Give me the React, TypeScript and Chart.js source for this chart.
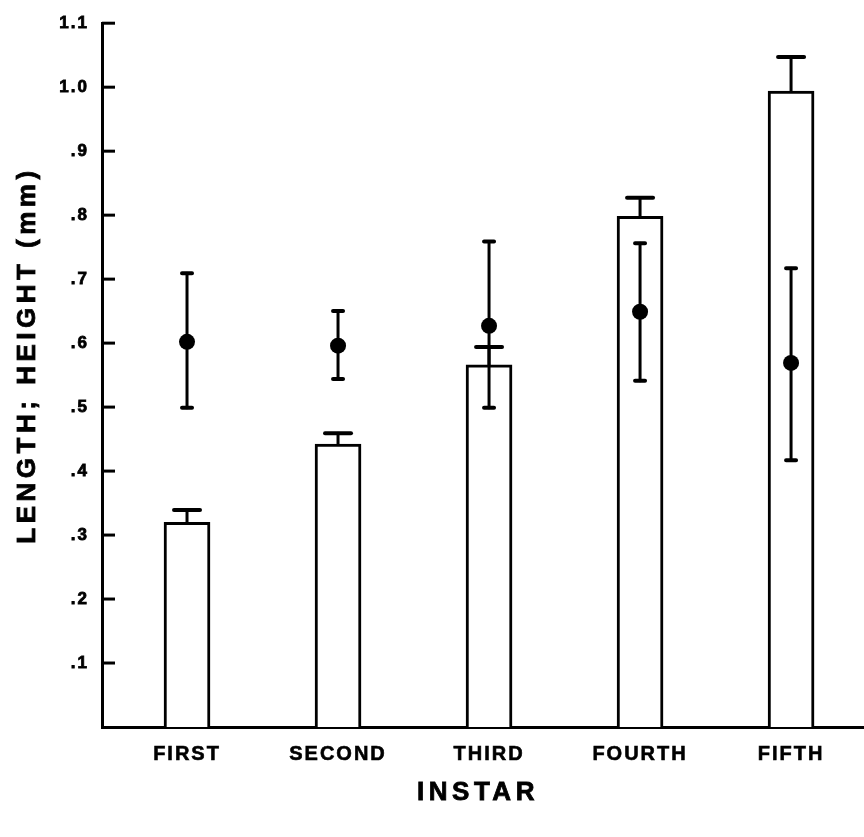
import React, { useEffect, useRef } from 'react';
import { Chart, registerables } from 'chart.js';

Chart.register(...registerables);

const CATEGORIES = ['FIRST', 'SECOND', 'THIRD', 'FOURTH', 'FIFTH'];
const BAR_MEANS = [0.32, 0.442, 0.566, 0.798, 0.994];
const BAR_ERRORS = [0.019, 0.017, 0.028, 0.029, 0.053];
const POINT_MEANS = [0.602, 0.596, 0.627, 0.649, 0.569];
const POINT_UPPER = [0.709, 0.65, 0.759, 0.756, 0.717];
const POINT_LOWER = [0.499, 0.544, 0.499, 0.541, 0.417];
const Y_TICK_LABELS: Record<string, string> = {
  '0.1': '.1', '0.2': '.2', '0.3': '.3', '0.4': '.4', '0.5': '.5',
  '0.6': '.6', '0.7': '.7', '0.8': '.8', '0.9': '.9', '1.0': '1.0', '1.1': '1.1',
};
const Y_TITLE = 'LENGTH; HEIGHT (mm)';
const X_TITLE = 'INSTAR';

const FONT = '"Liberation Sans", Arial, Helvetica, sans-serif';

export default function App() {
  const ref = useRef<HTMLCanvasElement | null>(null);

  useEffect(() => {
    document.body.style.margin = '0';
    const canvas = ref.current!;
    const errorBars = {
      id: 'errorBars',
      afterDatasetsDraw(chart: any) {
        const ctx = chart.ctx;
        const y = chart.scales.y;
        ctx.save();
        ctx.strokeStyle = '#000';
        ctx.lineCap = 'round';
        const barMeta = chart.getDatasetMeta(0);
        barMeta.data.forEach((el: any, i: number) => {
          const x = el.x;
          const top = y.getPixelForValue(BAR_MEANS[i] + BAR_ERRORS[i]);
          const base = y.getPixelForValue(BAR_MEANS[i]);
          ctx.lineWidth = 3;
          ctx.beginPath();
          ctx.moveTo(x, base);
          ctx.lineTo(x, top);
          ctx.stroke();
          ctx.lineWidth = 4;
          ctx.beginPath();
          ctx.moveTo(x - 13, top);
          ctx.lineTo(x + 13, top);
          ctx.stroke();
        });
        const ptMeta = chart.getDatasetMeta(1);
        ptMeta.data.forEach((el: any, i: number) => {
          const x = el.x;
          const hi = y.getPixelForValue(POINT_UPPER[i]);
          const lo = y.getPixelForValue(POINT_LOWER[i]);
          ctx.lineWidth = 3;
          ctx.beginPath();
          ctx.moveTo(x, lo);
          ctx.lineTo(x, hi);
          ctx.stroke();
          ctx.lineWidth = 4;
          ctx.beginPath();
          ctx.moveTo(x - 5, hi);
          ctx.lineTo(x + 5, hi);
          ctx.moveTo(x - 5, lo);
          ctx.lineTo(x + 5, lo);
          ctx.stroke();
        });
        ctx.restore();
      },
    };

    const decor = {
      id: 'decor',
      beforeDraw(chart: any) {
        (chart.ctx as any).letterSpacing = '2px';
      },
      afterDraw(chart: any) {
        const ctx = chart.ctx;
        const y = chart.scales.y;
        const left = chart.chartArea.left;
        ctx.save();
        ctx.strokeStyle = '#000';
        ctx.lineWidth = 3;
        y.ticks.forEach((t: any) => {
          if (t.value <= 0) return;
          const py = y.getPixelForValue(t.value);
          ctx.beginPath();
          ctx.moveTo(left, py);
          ctx.lineTo(left + 13, py);
          ctx.stroke();
        });
        ctx.fillStyle = '#000';
        ctx.strokeStyle = '#000';
        ctx.lineWidth = 0.8;
        ctx.font = `bold 26px ${FONT}`;
        (ctx as any).letterSpacing = '4.5px';
        ctx.textAlign = 'center';
        ctx.textBaseline = 'middle';
        ctx.save();
        ctx.translate(28, 355);
        ctx.rotate(-Math.PI / 2);
        ctx.fillText(Y_TITLE, 0, 0);
        ctx.strokeText(Y_TITLE, 0, 0);
        ctx.restore();
        ctx.fillText(X_TITLE, 478, 793);
        ctx.strokeText(X_TITLE, 478, 793);
        ctx.restore();
      },
    };

    const chart = new Chart(canvas, {
      type: 'bar',
      data: {
        datasets: [
          {
            type: 'bar',
            label: 'bars',
            data: BAR_MEANS.map((v, i) => ({ x: i, y: v })),
            backgroundColor: '#fff',
            borderColor: '#000',
            borderWidth: 3,
            barThickness: 46,
            order: 2,
          } as any,
          {
            type: 'line',
            label: 'points',
            data: POINT_MEANS.map((v, i) => ({ x: i, y: v })),
            showLine: false,
            pointRadius: 8,
            pointBackgroundColor: '#000',
            pointBorderColor: '#000',
            pointBorderWidth: 0,
            order: 1,
          } as any,
        ],
      },
      options: {
        responsive: false,
        animation: false,
        devicePixelRatio: 1,
        layout: { autoPadding: false, padding: { top: 23, right: 0, bottom: 0, left: 0 } },
        plugins: {
          legend: { display: false },
          tooltip: { enabled: false },
        },
        scales: {
          x: {
            type: 'linear',
            min: -0.563,
            max: 4.483,
            offset: false,
            grid: { display: false, drawTicks: false, offset: false },
            border: { display: true, color: '#000', width: 3 },
            afterBuildTicks: (scale: any) => {
              scale.ticks = CATEGORIES.map((_, i) => ({ value: i }));
            },
            afterFit: (scale: any) => {
              scale.height = 110;
              scale.paddingLeft = 0;
              scale.paddingRight = 0;
            },
            ticks: {
              autoSkip: false,
              maxRotation: 0,
              padding: 15,
              color: '#000',
              textStrokeColor: '#000',
              textStrokeWidth: 0.6,
              font: { family: FONT, size: 20, weight: 'bold' },
              callback: (v: any) => CATEGORIES[v] ?? '',
            },
          },
          y: {
            type: 'linear',
            min: 0,
            max: 1.1,
            grid: { display: false, drawTicks: false },
            border: { display: true, color: '#000', width: 3 },
            afterFit: (scale: any) => {
              scale.width = 102;
            },
            ticks: {
              stepSize: 0.1,
              padding: 13,
              color: '#000',
              textStrokeColor: '#000',
              textStrokeWidth: 0.8,
              font: { family: FONT, size: 17, weight: 'bold' },
              callback: (v: any) => Y_TICK_LABELS[Number(v).toFixed(1)] ?? '',
            },
          },
        },
      } as any,
      plugins: [errorBars, decor],
    });
    return () => chart.destroy();
  }, []);

  return (
    <div style={{ width: 864, height: 837 }}>
      <canvas ref={ref} width={864} height={837} style={{ display: 'block' }} />
    </div>
  );
}
